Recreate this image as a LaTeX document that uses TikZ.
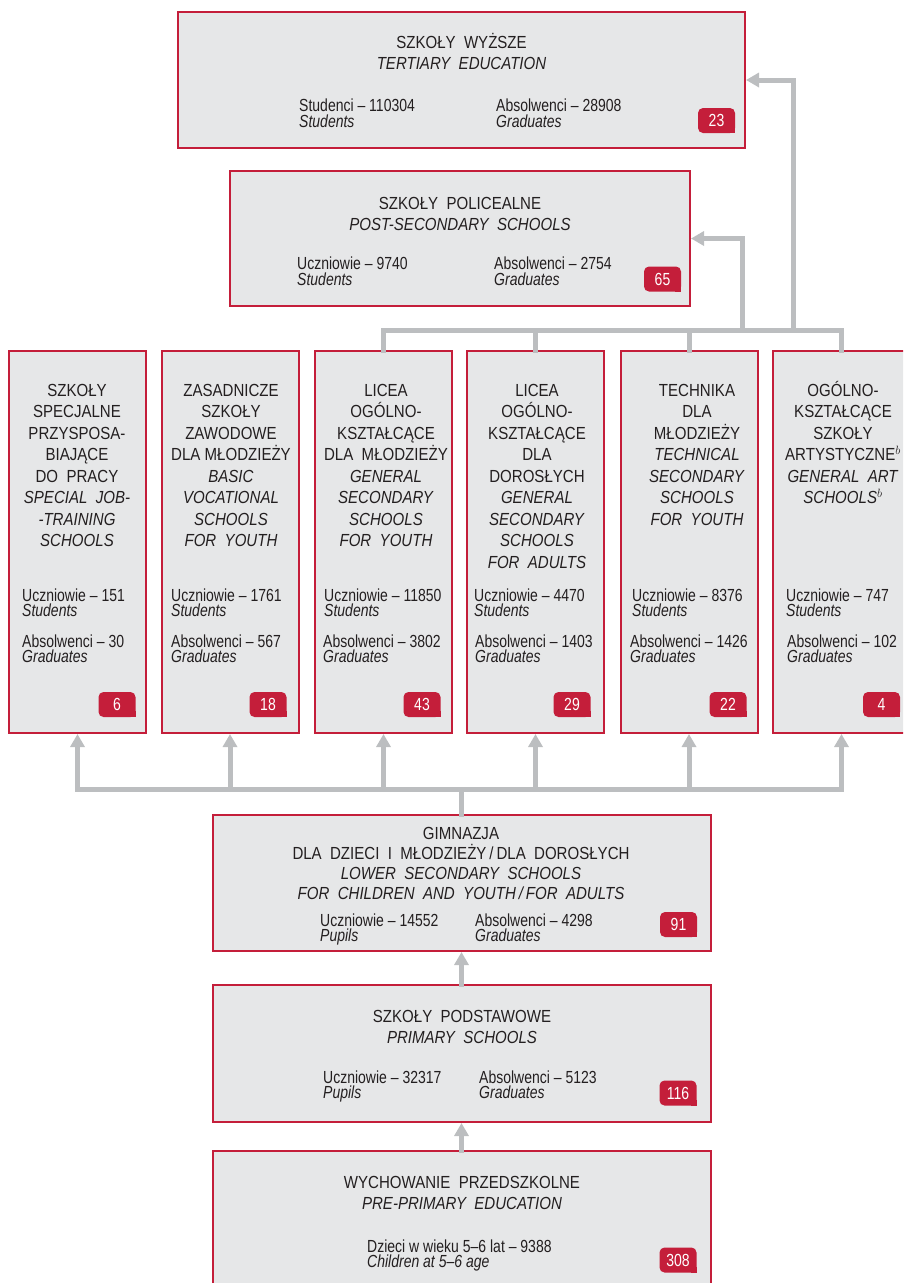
\documentclass[tikz,border=0pt]{standalone}
\usepackage{fontspec}
\setmainfont{Liberation Sans}[FakeStretch=0.8]
\newfontfamily\headfont{Liberation Sans}[FakeStretch=0.86]
\usetikzlibrary{arrows.meta}

\definecolor{gusred}{HTML}{C41E3A}
\definecolor{gusgray}{HTML}{E6E7E8}
\definecolor{gusline}{HTML}{BCBEC0}
\definecolor{gusink}{HTML}{231F20}

\tikzset{
    box/.style={draw=gusred, fill=gusgray, line width=2pt, inner sep=0pt},
    headtext/.style={font=\headfont\fontsize{17.5}{21.5}\selectfont, text=gusink, align=center, anchor=base, inner sep=0pt},
    stattext/.style={font=\fontsize{17.5}{15.5}\selectfont, text=gusink, align=left, anchor=base west, inner sep=0pt},
    badge/.style={fill=gusred, text=white, rounded corners=5pt, minimum width=37pt, minimum height=25pt, inner sep=0pt, font=\fontsize{17.5}{18}\selectfont},
    link/.style={draw=gusline, line width=5pt, line cap=rect},
    uplink/.style={link, -{Triangle[length=13pt, width=14pt]}}
}

\begin{document}
\begin{tikzpicture}[x=1pt, y=-1pt]
    \useasboundingbox (0,0) rectangle (903,1283);
    \clip (0,0) rectangle (903,1283);

    \node [box, minimum width=567pt, minimum height=136pt] (tert) at (461.5,80) {};
    \node [box, minimum width=460pt, minimum height=135pt] (post) at (460,238.5) {};
    \node [box, minimum width=137pt, minimum height=382pt] (col1) at (77.5,542) {};
    \node [box, minimum width=137pt, minimum height=382pt] (col2) at (230,542) {};
    \node [box, minimum width=137pt, minimum height=382pt] (col3) at (383.5,542) {};
    \node [box, minimum width=137pt, minimum height=382pt] (col4) at (535.5,542) {};
    \node [box, minimum width=137pt, minimum height=382pt] (col5) at (689,542) {};
    \node [box, minimum width=137pt, minimum height=382pt] (col6) at (841.5,542) {};
    \node [box, minimum width=498pt, minimum height=136pt] (gim) at (461.5,883) {};
    \node [box, minimum width=498pt, minimum height=137pt] (prim) at (461.5,1053.5) {};
    \node [box, minimum width=498pt, minimum height=169pt] (pre) at (461.5,1235.5) {};

    \coordinate (lowbus) at (461.5,789);
    \coordinate (highbus) at (461.5,330);
    \coordinate (jpost) at (742,330);
    \coordinate (jtert) at (793,330);

    \draw [link] (gim.north) -- (lowbus);
    \draw [link] (lowbus -| col1.south) -- (lowbus -| col6.south);
    \foreach \i in {1,...,6}
        \draw [uplink] (lowbus -| col\i.south) -- (col\i.south);
    \draw [link] (highbus -| col3.north) -- (highbus -| col6.north);
    \foreach \i in {3,...,6}
        \draw [link] (col\i.north) -- (highbus -| col\i.north);
    \draw [uplink] (jpost) |- (post.east);
    \draw [uplink] (jtert) |- (tert.east);
    \draw [uplink] (prim.north) -- (gim.south);
    \draw [uplink] (pre.north) -- (prim.south);

    \node [headtext] (tertT) at (461.5,69.5) {SZKOŁY~~WYŻSZE\\\textit{TERTIARY~~EDUCATION}};
    \node [stattext] (tertS) at (299,127) {Studenci – 110304\\\textit{Students}};
    \node [stattext] (tertG) at (496,127) {Absolwenci – 28908\\\textit{Graduates}};

    \node [headtext] (postT) at (460,230.5) {SZKOŁY~~POLICEALNE\\\textit{POST-SECONDARY~~SCHOOLS}};
    \node [stattext] (postS) at (297,285) {Uczniowie – 9740\\\textit{Students}};
    \node [stattext] (postG) at (494,285) {Absolwenci – 2754\\\textit{Graduates}};

    \node [headtext] (col1T) at (77,546.5) {SZKOŁY\\SPECJALNE\\PRZYSPOSA-\\BIAJĄCE\\DO~~PRACY\\\textit{SPECIAL~~JOB-}\\\textit{-TRAINING}\\\textit{SCHOOLS}};
    \node [headtext] (col2T) at (231,546.5) {ZASADNICZE\\SZKOŁY\\ZAWODOWE\\DLA MŁODZIEŻY\\\textit{BASIC}\\\textit{VOCATIONAL}\\\textit{SCHOOLS}\\\textit{FOR~~YOUTH}};
    \node [headtext] (col3T) at (386,546.5) {LICEA\\OGÓLNO-\\KSZTAŁCĄCE\\DLA~~MŁODZIEŻY\\\textit{GENERAL}\\\textit{SECONDARY}\\\textit{SCHOOLS}\\\textit{FOR~~YOUTH}};
    \node [headtext] (col4T) at (537,568) {LICEA\\OGÓLNO-\\KSZTAŁCĄCE\\DLA\\DOROSŁYCH\\\textit{GENERAL}\\\textit{SECONDARY}\\\textit{SCHOOLS}\\\textit{FOR~~ADULTS}};
    \node [headtext] (col5T) at (697,525) {TECHNIKA\\DLA\\MŁODZIEŻY\\\textit{TECHNICAL}\\\textit{SECONDARY}\\\textit{SCHOOLS}\\\textit{FOR~~YOUTH}};
    \node [headtext] (col6T) at (843,503.5) {OGÓLNO-\\KSZTAŁCĄCE\\SZKOŁY\\ARTYSTYCZNE$^b$\\\textit{GENERAL~~ART}\\\textit{SCHOOLS$^b$}};

    \node [stattext] (col1S) at (22,616.5) {Uczniowie – 151\\\textit{Students}};
    \node [stattext] (col1G) at (22,662.5) {Absolwenci – 30\\\textit{Graduates}};
    \node [stattext] (col2S) at (171,616.5) {Uczniowie – 1761\\\textit{Students}};
    \node [stattext] (col2G) at (171,662.5) {Absolwenci – 567\\\textit{Graduates}};
    \node [stattext] (col3S) at (324,616.5) {Uczniowie – 11850\\\textit{Students}};
    \node [stattext] (col3G) at (323,662.5) {Absolwenci – 3802\\\textit{Graduates}};
    \node [stattext] (col4S) at (474,616.5) {Uczniowie – 4470\\\textit{Students}};
    \node [stattext] (col4G) at (475,662.5) {Absolwenci – 1403\\\textit{Graduates}};
    \node [stattext] (col5S) at (632,616.5) {Uczniowie – 8376\\\textit{Students}};
    \node [stattext] (col5G) at (630,662.5) {Absolwenci – 1426\\\textit{Graduates}};
    \node [stattext] (col6S) at (786,616.5) {Uczniowie – 747\\\textit{Students}};
    \node [stattext] (col6G) at (787,662.5) {Absolwenci – 102\\\textit{Graduates}};

    \node [headtext, font=\headfont\fontsize{17.5}{20}\selectfont] (gimT) at (461,899) {GIMNAZJA\\DLA~~DZIECI~~I~~MŁODZIEŻY\,/\,DLA~~DOROSŁYCH\\\textit{LOWER~~SECONDARY~~SCHOOLS}\\\textit{FOR~~CHILDREN~~AND~~YOUTH\,/\,FOR~~ADULTS}};
    \node [stattext] (gimS) at (320,941.5) {Uczniowie – 14552\\\textit{Pupils}};
    \node [stattext] (gimG) at (475,941.5) {Absolwenci – 4298\\\textit{Graduates}};

    \node [headtext] (primT) at (462,1043.5) {SZKOŁY~~PODSTAWOWE\\\textit{PRIMARY~~SCHOOLS}};
    \node [stattext] (primS) at (323,1098.5) {Uczniowie – 32317\\\textit{Pupils}};
    \node [stattext] (primG) at (479,1098.5) {Absolwenci – 5123\\\textit{Graduates}};

    \node [headtext] (preT) at (462,1209.5) {WYCHOWANIE~~PRZEDSZKOLNE\\\textit{PRE-PRIMARY~~EDUCATION}};
    \node [stattext] (preS) at (367,1267.5) {Dzieci w wieku 5–6 lat – 9388\\\textit{Children at 5–6 age}};

    \node [badge] (tertN) at (716.5,120.5) {23};
    \node [badge] (postN) at (662.5,279) {65};
    \node [badge] (col1N) at (117,704.5) {6};
    \node [badge] (col2N) at (268,704.5) {18};
    \node [badge] (col3N) at (422,704.5) {43};
    \node [badge] (col4N) at (572,704.5) {29};
    \node [badge] (col5N) at (728,704.5) {22};
    \node [badge] (col6N) at (881.5,704.5) {4};
    \node [badge] (gimN) at (678.5,924.5) {91};
    \node [badge] (primN) at (678,1093) {116};
    \node [badge] (preN) at (678,1260) {308};
    \foreach \b in {tertN,postN,col1N,col2N,col3N,col4N,col5N,col6N,gimN,primN,preN}
        \fill [gusred] (\b.south east) rectangle ++(-6,-6);
\end{tikzpicture}
\end{document}
